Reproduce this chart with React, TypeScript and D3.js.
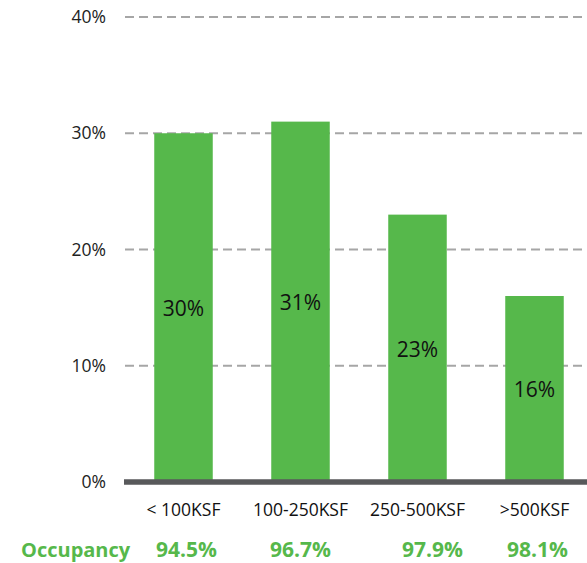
import React from "react";
import * as d3 from "d3";

const categories = ["< 100KSF", "100-250KSF", "250-500KSF", ">500KSF"];
const shares = [30, 31, 23, 16];
const occupancy = ["94.5%", "96.7%", "97.9%", "98.1%"];
const yTicks = [0, 10, 20, 30, 40];

const W = 587;
const H = 563;
const left = 125;
const right = 593;
const y0 = 482;
const y1 = 17;
const occOffsets = [3, 0, 15, 3];

export default function App() {
  const x = d3.scaleBand<string>().domain(categories).range([left, right]).paddingInner(0.5).paddingOuter(0.25);
  const y = d3.scaleLinear().domain([0, 40]).range([y0, y1]);
  const font = "'Open Sans', 'Segoe UI', sans-serif";
  const green = "#56b84b";
  return (
    <svg width={W} height={H} style={{ position: "absolute", left: 0, top: 0, fontFamily: font }}>
      <rect width={W} height={H} fill="#fff" />
      {yTicks.map((t) => (
        <g key={t}>
          {t > 0 && (
            <line x1={left} x2={W} y1={y(t)} y2={y(t)} stroke="#a6a6a6" strokeWidth={2} strokeDasharray="9 5" />
          )}
          <text x={106} y={y(t)} dy="0.35em" textAnchor="end" fontSize={17.5} fill="#222">
            {t}%
          </text>
        </g>
      ))}
      {categories.map((c, i) => (
        <g key={c}>
          <rect x={x(c)} y={y(shares[i])} width={x.bandwidth()} height={y(0) - y(shares[i])} fill={green} />
          <text
            x={(x(c) as number) + x.bandwidth() / 2}
            y={(y(shares[i]) + y(0)) / 2}
            dy="0.4em"
            textAnchor="middle"
            fontSize={21}
            fill="#111"
          >
            {shares[i]}%
          </text>
          <text
            x={(x(c) as number) + x.bandwidth() / 2}
            y={510}
            dy="0.35em"
            textAnchor="middle"
            fontSize={17.5}
            fill="#111"
          >
            {c}
          </text>
          <text
            x={(x(c) as number) + x.bandwidth() / 2 + occOffsets[i]}
            y={557}
            textAnchor="middle"
            fontSize={21}
            fontWeight="bold"
            fill={green}
          >
            {occupancy[i]}
          </text>
        </g>
      ))}
      <line x1={124} x2={W} y1={y0} y2={y0} stroke="#58595b" strokeWidth={5.5} />
      <text x={21} y={557} fontSize={20} fontWeight="bold" fill={green}>
        Occupancy
      </text>
    </svg>
  );
}
